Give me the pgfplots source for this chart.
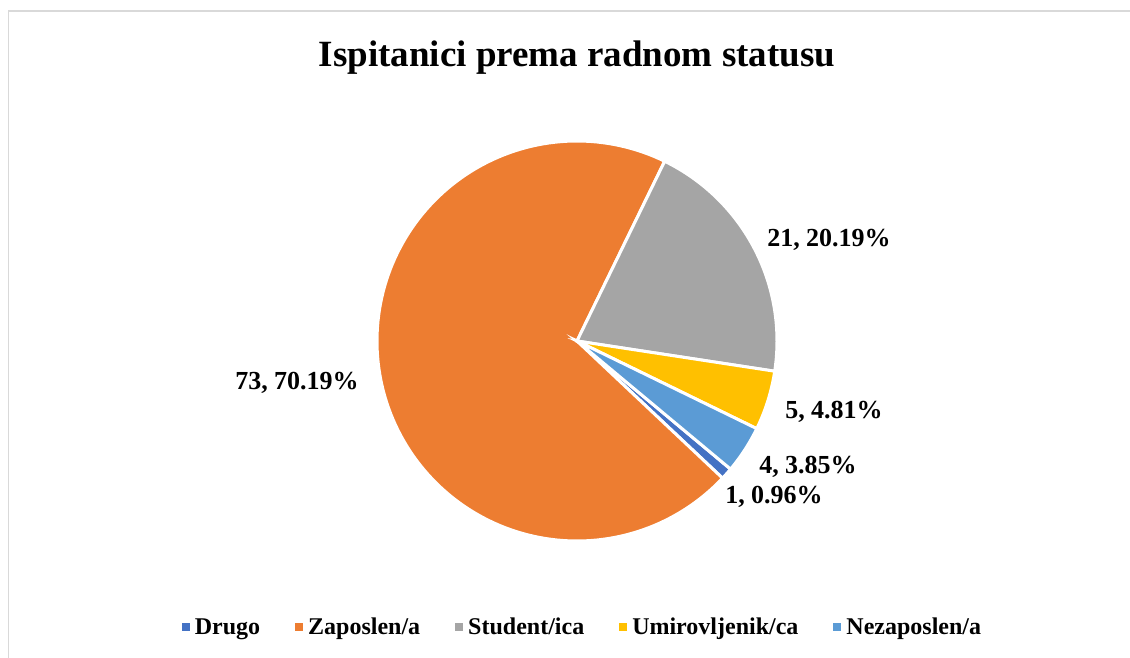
\documentclass[border=0pt]{standalone}
\usepackage{fontspec}
\setmainfont{Liberation Serif}
\usepackage{pgfplots}
\pgfplotsset{compat=1.18}
\definecolor{cDrugo}{HTML}{4472C4}
\definecolor{cZap}{HTML}{ED7D31}
\definecolor{cStu}{HTML}{A5A5A5}
\definecolor{cUmi}{HTML}{FFC000}
\definecolor{cNez}{HTML}{5B9BD5}
\definecolor{frame}{HTML}{D9D9D9}
\begin{document}
\begin{tikzpicture}
% values: Drugo 1, Zaposlen/a 73, Student/ica 21, Umirovljenik/ca 5, Nezaposlen/a 4
\pgfmathsetmacro{\tot}{104}
\pgfmathsetmacro{\sA}{64}
\pgfmathsetmacro{\aStu}{\sA-21/\tot*360}
\pgfmathsetmacro{\aUmi}{\aStu-5/\tot*360}
\pgfmathsetmacro{\aNez}{\aUmi-4/\tot*360}
\pgfmathsetmacro{\aDru}{\aNez-1/\tot*360}
\pgfmathsetmacro{\aZap}{\aDru-73/\tot*360}
\begin{axis}[
  x=1pt, y=1pt, xmin=0, xmax=1130, ymin=0, ymax=657,
  hide axis, clip=false, anchor=south west, at={(0,0)},
  legend image code/.code={\fill[#1,draw=none] (0pt,-4pt) rectangle (8pt,4pt); \path[draw=none,fill=none] (-1pt,0) -- (11pt,0);},
  legend style={font=\fontsize{24}{28}\selectfont\bfseries, draw=none, fill=none,
    legend columns=-1, at={(axis cs:582,30)}, anchor=center,
    /tikz/every even column/.append style={column sep=32pt}},
]
\addplot[fill=cDrugo, draw=white, line width=3pt, domain=\aDru:\aNez, samples=10]
  ({577+200*cos(x)},{316+200*sin(x)}) -- (axis cs:577,316) -- cycle;
\addlegendentry{Drugo}
\addplot[fill=cZap, draw=white, line width=3pt, domain=\aZap:\aDru, samples=150]
  ({577+200*cos(x)},{316+200*sin(x)}) -- (axis cs:577,316) -- cycle;
\addlegendentry{Zaposlen/a}
\addplot[fill=cStu, draw=white, line width=3pt, domain=\aStu:\sA, samples=60]
  ({577+200*cos(x)},{316+200*sin(x)}) -- (axis cs:577,316) -- cycle;
\addlegendentry{Student/ica}
\addplot[fill=cUmi, draw=white, line width=3pt, domain=\aUmi:\aStu, samples=20]
  ({577+200*cos(x)},{316+200*sin(x)}) -- (axis cs:577,316) -- cycle;
\addlegendentry{Umirovljenik/ca}
\addplot[fill=cNez, draw=white, line width=3pt, domain=\aNez:\aUmi, samples=20]
  ({577+200*cos(x)},{316+200*sin(x)}) -- (axis cs:577,316) -- cycle;
\addlegendentry{Nezaposlen/a}
\draw[frame, line width=1.5pt] (axis cs:8.5,-10) -- (axis cs:8.5,646) -- (axis cs:1140,646);
\node[font=\fontsize{37}{44}\selectfont\bfseries] at (axis cs:577,599) {Ispitanici prema radnom statusu};
\node[font=\fontsize{26}{30}\selectfont\bfseries] at (axis cs:829,417) {21, 20.19\%};
\node[font=\fontsize{26}{30}\selectfont\bfseries] at (axis cs:834,245) {5, 4.81\%};
\node[font=\fontsize{26}{30}\selectfont\bfseries] at (axis cs:808,190) {4, 3.85\%};
\node[font=\fontsize{26}{30}\selectfont\bfseries] at (axis cs:774,160) {1, 0.96\%};
\node[font=\fontsize{26}{30}\selectfont\bfseries] at (axis cs:297,274) {73, 70.19\%};
\end{axis}
\pgfresetboundingbox
\useasboundingbox (0,0) rectangle (1130pt,657pt);
\end{tikzpicture}
\end{document}
